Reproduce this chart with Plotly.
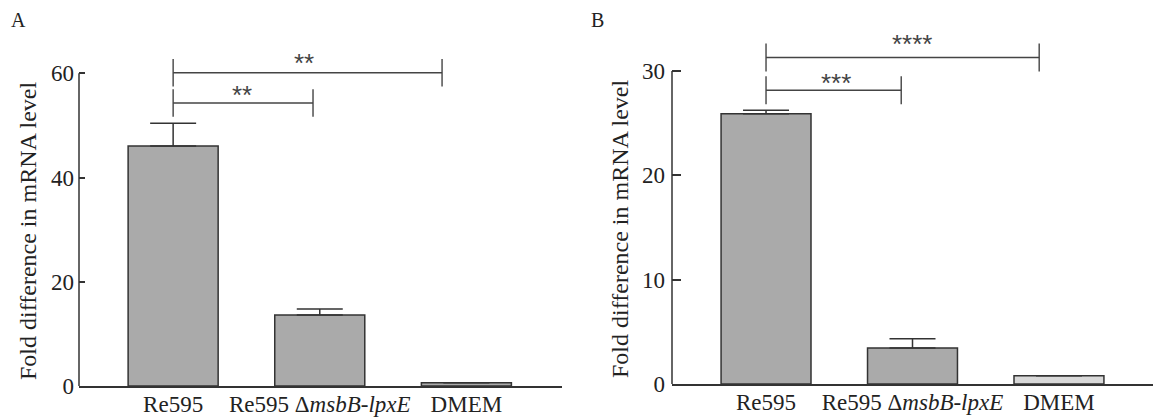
import plotly.graph_objects as go

# ---------------- data ----------------
categories = ["Re595", "Re595 Δ<i>msbB-lpxE</i>", "DMEM"]

a_values = [46.05, 13.62, 0.6]
a_err = [4.35, 1.15, 0.0]
a_ticks = [0, 20, 40, 60]

b_values = [25.9, 3.45, 0.8]
b_err = [0.34, 0.9, 0.0]
b_ticks = [0, 10, 20, 30]

# significance brackets: (start x, end x, height, label)
a_brackets = [(0, 1.834, 60.1, "**"), (0, 0.954, 54.3, "**")]
a_star_pos = [(0.894, 62.0), (0.471, 55.8)]
b_brackets = [(0, 1.865, 31.3, "****"), (0, 0.923, 28.16, "***")]
b_star_pos = [(0.995, 32.6), (0.478, 28.9)]

y_title = "Fold difference in mRNA level"

# ---------------- styling ----------------
W, H = 1153, 420
FONT = "Liberation Serif, Times New Roman, serif"
STARFONT = "Liberation Sans, Arial, sans-serif"
DARK = "#333333"
BAR = "#aaaaaa"
LIGHT = "#d9d9d9"

fig = go.Figure()
xs = list(range(len(categories)))

fig.add_trace(go.Bar(
    x=xs, y=a_values, width=0.614,
    marker=dict(color=[BAR, BAR, BAR], line=dict(color=DARK, width=1.5)),
    error_y=dict(type="data", array=a_err, arrayminus=[0] * 3, symmetric=False,
                 color=DARK, thickness=1.5, width=23),
    xaxis="x", yaxis="y", showlegend=False, hoverinfo="skip",
))
fig.add_trace(go.Bar(
    x=xs, y=b_values, width=0.614,
    marker=dict(color=[BAR, BAR, LIGHT], line=dict(color=DARK, width=1.5)),
    error_y=dict(type="data", array=b_err, arrayminus=[0] * 3, symmetric=False,
                 color=DARK, thickness=1.5, width=23),
    xaxis="x2", yaxis="y2", showlegend=False, hoverinfo="skip",
))

shapes = []
annotations = []


def brackets_for(brackets, stars, xref, yref, half):
    for (x0, x1, y, lab), (sx, sy) in zip(brackets, stars):
        line = dict(color="#444444", width=1.4)
        shapes.append(dict(type="line", xref=xref, yref=yref, x0=x0, x1=x1, y0=y, y1=y, line=line))
        for xx in (x0, x1):
            shapes.append(dict(type="line", xref=xref, yref=yref, x0=xx, x1=xx,
                               y0=y - half, y1=y + half, line=line))
        annotations.append(dict(xref=xref, yref=yref, x=sx, y=sy, text=lab, showarrow=False,
                                font=dict(family=STARFONT, size=26, color="#444444"),
                                xanchor="center", yanchor="middle"))


brackets_for(a_brackets, a_star_pos, "x", "y", 2.65)
brackets_for(b_brackets, b_star_pos, "x2", "y2", 1.35)

# y axis lines (only up to the top tick)
shapes.append(dict(type="line", xref="x domain", yref="y", x0=0, x1=0, y0=0, y1=a_ticks[-1],
                   line=dict(color=DARK, width=1.5)))
shapes.append(dict(type="line", xref="x2 domain", yref="y2", x0=0, x1=0, y0=0, y1=b_ticks[-1],
                   line=dict(color=DARK, width=1.5)))

# axis titles and panel labels
annotations.append(dict(xref="paper", yref="paper", x=28 / W, y=1 - 231 / H, text=y_title,
                        textangle=-90, showarrow=False, xanchor="center", yanchor="middle",
                        font=dict(family=FONT, size=24, color="#222222")))
annotations.append(dict(xref="paper", yref="paper", x=620 / W, y=1 - 229 / H, text=y_title,
                        textangle=-90, showarrow=False, xanchor="center", yanchor="middle",
                        font=dict(family=FONT, size=24, color="#222222")))
annotations.append(dict(xref="paper", yref="paper", x=18 / W, y=1 - 20 / H, text="A",
                        showarrow=False, xanchor="center", yanchor="middle",
                        font=dict(family=FONT, size=20, color="#222222")))
annotations.append(dict(xref="paper", yref="paper", x=597 / W, y=1 - 20 / H, text="B",
                        showarrow=False, xanchor="center", yanchor="middle",
                        font=dict(family=FONT, size=20, color="#222222")))

tickfont = dict(family=FONT, size=23, color="#222222")

fig.update_layout(
    width=W, height=H,
    margin=dict(l=0, r=0, t=0, b=0),
    paper_bgcolor="white", plot_bgcolor="white",
    shapes=shapes, annotations=annotations,
    xaxis=dict(domain=[79 / W, 562 / W], range=[-0.642, 2.652], tickvals=xs, ticktext=categories,
               showline=True, linecolor=DARK, linewidth=1.5, ticks="", showgrid=False,
               zeroline=False, tickfont=tickfont, automargin=False, ticklabelstandoff=-3),
    yaxis=dict(domain=[1 - 386 / H, 1 - 30 / H], range=[0, (386 - 30) / 5.212], tickvals=a_ticks,
               showline=False, ticks="inside", ticklen=6, tickwidth=1.5, tickcolor=DARK,
               showgrid=False, zeroline=False, tickfont=tickfont, automargin=False,
               ticklabelstandoff=4),
    xaxis2=dict(domain=[672 / W, 1.0], range=[-0.642, 2.642], tickvals=xs, ticktext=categories,
                showline=True, linecolor=DARK, linewidth=1.5, ticks="", showgrid=False,
                zeroline=False, tickfont=tickfont, automargin=False, anchor="y2",
                ticklabelstandoff=-3),
    yaxis2=dict(domain=[1 - 384 / H, 1 - 30 / H], range=[0, (384 - 30) / 10.43], tickvals=b_ticks,
                showline=False, ticks="inside", ticklen=9, tickwidth=1.5, tickcolor=DARK,
                showgrid=False, zeroline=False, tickfont=tickfont, automargin=False,
                anchor="x2", ticklabelstandoff=6),
)

fig.write_html("out.html", config={"displayModeBar": False},
               post_script="document.body.style.margin='0';document.body.style.padding='0';")
